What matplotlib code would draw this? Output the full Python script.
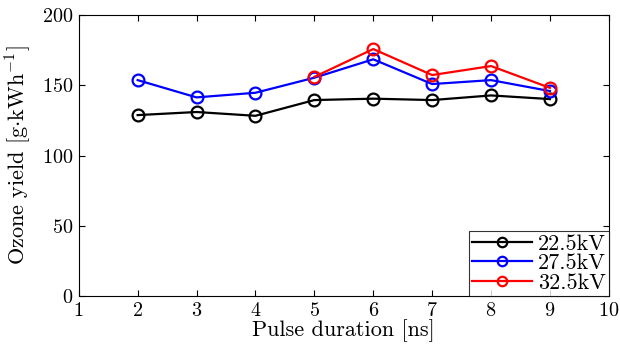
import matplotlib
matplotlib.use("Agg")
import matplotlib.pyplot as plt

plt.rcParams['font.family'] = 'serif'
plt.rcParams['font.serif'] = ['cmr10']
plt.rcParams['mathtext.fontset'] = 'cm'
plt.rcParams['axes.formatter.use_mathtext'] = True

x_22 = [2, 3, 4, 5, 6, 7, 8, 9]
y_22 = [128.8, 131.0, 128.3, 139.5, 140.5, 139.5, 142.8, 140.2]
x_27 = [2, 3, 4, 5, 6, 7, 8, 9]
y_27 = [153.7, 141.4, 144.7, 155.4, 168.5, 150.9, 153.7, 145.9]
x_32 = [5, 6, 7, 8, 9]
y_32 = [156.0, 175.8, 157.3, 163.7, 148.2]

series = [
    (x_22, y_22, 'k', '22.5kV'),
    (x_27, y_27, 'b', '27.5kV'),
    (x_32, y_32, 'r', '32.5kV'),
]

fig = plt.figure(figsize=(6.2, 3.5), dpi=100)
ax = fig.add_axes([0.127, 0.154, 0.855, 0.803])

for x, y, c, lab in series:
    ax.plot(x, y, color=c, lw=1.6, marker='o', ms=8.5, mfc='none',
            mec=c, mew=1.6, label=lab)

ax.set_xlim(1, 10)
ax.set_ylim(0, 200)
ax.set_xticks(range(1, 11))
ax.set_yticks([0, 50, 100, 150, 200])
ax.tick_params(direction='in', top=True, right=True, labelsize=14.5, length=4, pad=4)
ax.set_xlabel('Pulse duration [ns]', fontsize=16, labelpad=0)
ax.set_ylabel(r'Ozone yield [g$\cdot$kWh$^{-1}$]', fontsize=16, labelpad=6)

leg = ax.legend(loc='lower right', fontsize=16, frameon=True, fancybox=False,
                borderaxespad=0, handlelength=2.7, labelspacing=0.0,
                borderpad=0.15, handletextpad=0.25, markerscale=0.8)
leg.get_frame().set_edgecolor('k')
leg.get_frame().set_linewidth(0.8)

plt.savefig('out.png')
